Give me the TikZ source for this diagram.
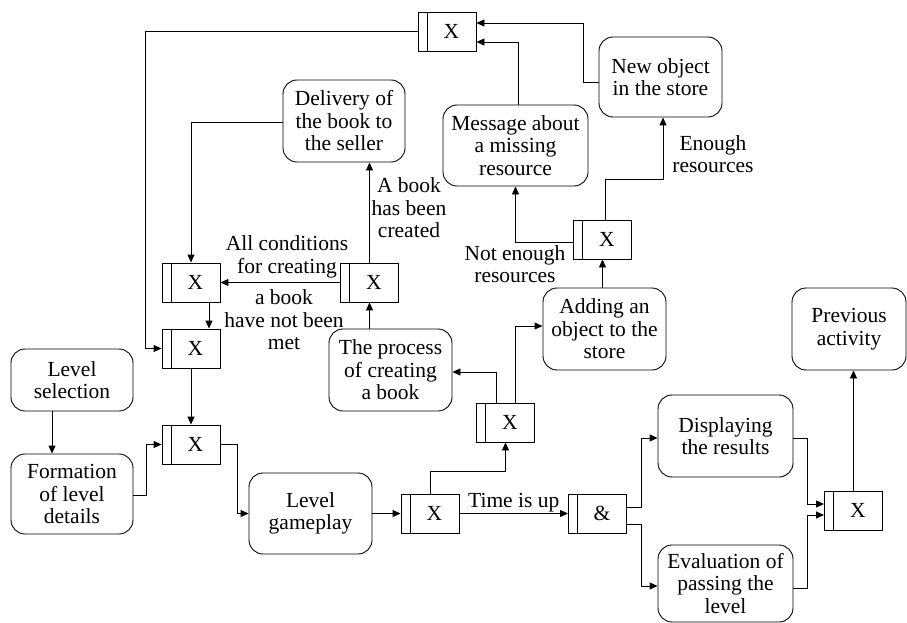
\documentclass[tikz,border=0pt]{standalone}
\usepackage{fontspec}
\setmainfont{Liberation Serif}
\usetikzlibrary{arrows.meta,calc}
\begin{document}
\begin{tikzpicture}[x=1pt,y=-1pt,
  every node/.style={font=\fontsize{21.5}{22.5}\selectfont},
  box/.style={draw,rounded corners=14pt,align=center,inner sep=0pt,line width=0.9pt},
  gate/.style={draw,minimum width=58pt,minimum height=39pt,inner sep=0pt,line width=0.9pt,
    path picture={\draw[line width=0.9pt] ([xshift=9pt]path picture bounding box.north west) -- ([xshift=9pt]path picture bounding box.south west);}},
  lbl/.style={align=center,inner sep=0pt},
  arr/.style={line width=0.9pt,-{Triangle[length=8pt,width=7pt]}},
  ln/.style={line width=0.9pt}]
\useasboundingbox (0,0) rectangle (907,623);
% gates
\node[gate] (gT) at (447,31.5) {\hspace*{9pt}X};
\node[gate] (g2) at (191,282.5) {\hspace*{9pt}X};
\node[gate] (g3) at (191,348.5) {\hspace*{9pt}X};
\node[gate] (gB) at (369.5,282.5) {\hspace*{9pt}X};
\node[gate] (g4) at (191,444.5) {\hspace*{9pt}X};
\node[gate] (g5) at (430,513.5) {\hspace*{9pt}X};
\node[gate] (g6) at (505.5,422.5) {\hspace*{9pt}X};
\node[gate] (gA) at (597.5,513.5) {\hspace*{9pt}\&};
\node[gate] (gF) at (853.5,510.5) {\hspace*{9pt}X};
\node[gate] (gR) at (602.5,239.5) {\hspace*{9pt}X};
% boxes
\node[box,minimum width=122pt,minimum height=82pt] (delivery) at (344,121) {Delivery of\\the book to\\the seller};
\node[box,minimum width=145pt,minimum height=81pt] (message) at (515.5,145.5) {Message about\\a missing\\resource};
\node[box,minimum width=123pt,minimum height=80pt] (newobj) at (660.5,77) {New object\\in the store};
\node[box,minimum width=123pt,minimum height=82pt] (process) at (390.5,370) {The process\\of creating\\a book};
\node[box,minimum width=123pt,minimum height=82pt] (adding) at (604.5,329) {Adding an\\object to the\\store};
\node[box,minimum width=122pt,minimum height=62pt] (levelsel) at (72,380) {Level\\selection};
\node[box,minimum width=122pt,minimum height=80pt] (formation) at (72,494) {Formation\\of level\\details};
\node[box,minimum width=123pt,minimum height=81pt] (gameplay) at (310.5,513.5) {Level\\gameplay};
\node[box,minimum width=135pt,minimum height=82pt] (display) at (725.5,436) {Displaying\\the results};
\node[box,minimum width=135pt,minimum height=77pt] (eval) at (725.5,583.5) {Evaluation of\\passing the\\level};
\node[box,minimum width=114pt,minimum height=82pt] (previous) at (849,329) {Previous\\activity};
% labels
\node[lbl] (lAbook) at (409,208) {A book\\has been\\created};
\node[lbl] (lAll) at (287,257) {All conditions\\for creating};
\node[lbl] (lNot) at (284,320) {a book\\have not been\\met};
\node[lbl] (lNE) at (515,264) {Not enough\\resources};
\node[lbl] (lE) at (713,154) {Enough\\resources};
% connectors
\draw[arr] (gT.west) -| ([xshift=-16pt]g3.west) -- (g3.west);
\draw[arr] ($(newobj.west)+(0,5)$) -- ++(-15,0) |- ($(gT.east)+(0,-8.5)$);
\draw[arr] ($(message.north)+(2.5,0)$) |- ($(gT.east)+(0,10.5)$);
\draw[arr] ($(delivery.west)+(0,1)$) -| (g2.north);
\draw[arr] (gB.north) -- (gB.north |- delivery.south);
\draw[arr] (gB.west) -- (g2.east);
\draw[arr] (gB.south |- process.north) -- (gB.south);
\draw[arr] ($(g2.south)+(18,0)$) -- ($(g3.north)+(18,0)$);
\draw[arr] (g3.south) -- (g4.north);
\draw[arr] ($(levelsel.south)+(-20,0)$) -- ($(formation.north)+(-20,0)$);
\draw[arr] ($(formation.east)+(0,1)$) -- ++(13,0) |- (g4.west);
\draw[arr] (g4.east) -- ++(17,0) |- (gameplay.west);
\draw[arr] (gameplay.east) -- (g5.west);
\draw[arr] (g5.east) -- node[above,inner sep=0pt,yshift=0.5pt] (lTime) {Time is up} (gA.west);
\draw[arr] (g5.north) -- ++(0,-22) -| (g6.south);
\draw[arr] ($(g6.north)+(-9.5,0)$) |- ($(process.east)+(0,2)$);
\draw[arr] ($(g6.north)+(10,0)$) |- ($(adding.west)+(0,-3)$);
\draw[arr] (gR.south |- adding.north) -- (gR.south);
\draw[arr] ($(gR.west)+(0,2.5)$) -| (message.south);
\draw[arr] ($(gR.north)+(2.5,0)$) -- ++(0,-40) -| ($(newobj.south)+(2.5,0)$);
\draw[arr] ($(gA.east)+(0,-6.5)$) -- ++(14,0) |- ($(display.west)+(0,2)$);
\draw[arr] ($(gA.east)+(0,10.5)$) -- ++(14,0) |- ($(eval.west)+(0,2.5)$);
\draw[arr] ($(display.east)+(0,2)$) -- ++(14,0) |- ($(gF.west)+(0,-6.5)$);
\draw[arr] ($(eval.east)+(0,4.5)$) -- ++(14,0) |- ($(gF.west)+(0,4.5)$);
\draw[arr] (gF.north) -- (gF.north |- previous.south);
\end{tikzpicture}
\end{document}
